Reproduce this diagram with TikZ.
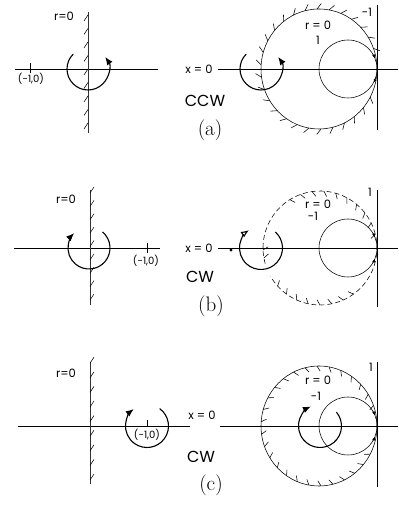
\documentclass[tikz,border=0pt]{standalone}
\usepackage{fontspec}
\setsansfont{Poppins}
\usetikzlibrary{arrows.meta}
\begin{document}
\begin{tikzpicture}[x=1pt,y=1pt,
  thinline/.style={line width=0.55pt},
  axisline/.style={line width=0.65pt},
  wall/.style={line width=0.95pt,black!80},
  hatch/.style={line width=0.55pt},
  turn/.style={line width=1.1pt,-{Latex[length=8pt,width=6.5pt]}},
  turnopen/.style={line width=1.1pt,-{Latex[open,length=8pt,width=6.5pt]}},
  tip/.style={line width=0.55pt,-{Latex[length=3.5pt,width=3pt]}},
  lab/.style={font=\sffamily\fontsize{11.5}{13}\selectfont, inner sep=0pt},
  small/.style={font=\sffamily\fontsize{10}{12}\selectfont, inner sep=0pt},
  big/.style={font=\sffamily\fontsize{16}{19}\selectfont, inner sep=0pt},
  capt/.style={font=\rmfamily\fontsize{21}{24}\selectfont, inner sep=0pt}]
\useasboundingbox (0,0) rectangle (398,518);

% ================= (a) =================
% left
\draw[axisline] (15,449) -- (158,449);
\draw[thinline] (30,445) -- (30,455);
\node[small] (am1) at (31,439) {(-1,0)};
\draw[wall] (88,506) -- (88,385);
\foreach \y in {395,408.5,...,504} \draw[hatch] (88,\y) -- ++(-4,-6);
\node[lab] (ar0) at (64,502) {r=0};
\draw[turn] ([shift={(135:21)}]88,449) arc[start angle=135,end angle=395,radius=21];
% right
\node[lab] (ax0) at (199,449) {x = 0};
\draw[axisline] (218,449) -- (398,449);
\draw[thinline] (377,513) -- (377,388);
\draw[thinline] (319,449) circle[x radius=58,y radius=60];
\foreach \a in {20,32,...,340} \draw[hatch] ([shift={(\a:58 and 60)}]319,449) -- ++(\a-40:7);
\draw[thinline] (348,449) circle[radius=29];
\draw[tip] ([shift={(32:29)}]348,449) arc[start angle=32,end angle=22,radius=29];
\draw[tip] ([shift={(-18:29)}]348,449) arc[start angle=-18,end angle=-28,radius=29];
\draw[turn] ([shift={(135:21)}]261,449) arc[start angle=135,end angle=395,radius=21];
\node[lab] (arr) at (318,493) {r = 0};
\node[lab] (a1) at (318,478) {1};
\node[lab] (am) at (367,506) {-1};
\node[big] (accw) at (205,417) {CCW};
\node[capt] (acap) at (210,388) {(a)};

% ================= (b) =================
% left
\draw[axisline] (14,270) -- (160,270);
\draw[thinline] (147,265) -- (147,275);
\node[small] (bm1) at (146,257) {(-1,0)};
\draw[wall] (90,328) -- (90,213);
\foreach \y in {218,231.375,...,326} \draw[hatch] (90,\y) -- ++(4,6);
\node[lab] (br0) at (66,319) {r=0};
\draw[turn] ([shift={(50:21)}]89,270) arc[start angle=50,end angle=-225,radius=21];
% right
\node[lab] (bx0) at (199,270) {x = 0};
\fill (231,268) circle[radius=1.6];
\draw[axisline] (218,270) -- (398,270);
\draw[thinline] (377,328) -- (377,211);
\draw[thinline,dash pattern=on 5pt off 3pt] ([shift={(196:57)}]320,270) arc[start angle=196,end angle=-150,radius=57];
\foreach \a in {14,26,...,124} \draw[hatch] ([shift={(\a:57)}]320,270) -- ++(\a+210:6);
\foreach \a in {222,234,...,306} \draw[hatch] ([shift={(\a:57)}]320,270) -- ++(\a+210:6);
\foreach \a in {182,190} \draw[hatch] ([shift={(\a:57)}]320,270) -- ++(\a+210:6);
\draw[thinline] (348,270) circle[radius=29];
\draw[tip] ([shift={(32:29)}]348,270) arc[start angle=32,end angle=22,radius=29];
\draw[tip] ([shift={(-32:29)}]348,270) arc[start angle=-32,end angle=-22,radius=29];
\draw[turnopen] ([shift={(48:21.5)}]261,270) arc[start angle=48,end angle=-236,radius=21.5];
\node[lab] (brr) at (318,314) {r = 0};
\node[lab] (bm) at (313,302) {-1};
\node[lab] (b1) at (370,326) {1};
\node[big] (bcw) at (200,241) {CW};
\node[capt] (bcap) at (211,212) {(b)};

% ================= (c) =================
% left
\draw[axisline] (18,92) -- (190,92);
\draw[thinline] (147,92) -- (147,98);
\node[small] (cm1) at (147,83) {(-1,0)};
\draw[wall] (90,156) -- (90,34);
\foreach \y in {38,52.6,...,156} \draw[hatch] (90,\y) -- ++(4,6);
\node[lab] (cr0) at (66,145) {r=0};
\draw[turn] ([shift={(54:21.5)}]147,92) arc[start angle=54,end angle=-232,radius=21.5];
% right
\node[lab] (cx0) at (202,103) {x = 0};
\draw[axisline] (220,92) -- (398,92);
\draw[thinline] (377,156) -- (377,31);
\draw[thinline] (319,92) circle[x radius=58,y radius=60];
\foreach \a in {20,32,...,340} \draw[hatch] ([shift={(\a:58 and 60)}]319,92) -- ++(\a+210:6);
\draw[thinline] (348,92) circle[radius=29];
\draw[tip] ([shift={(32:29)}]348,92) arc[start angle=32,end angle=22,radius=29];
\draw[tip] ([shift={(-32:29)}]348,92) arc[start angle=-32,end angle=-22,radius=29];
\draw[turn] ([shift={(40:21.5)}]320,92) arc[start angle=40,end angle=-245,radius=21.5];
\node[lab] (crr) at (318,138) {r = 0};
\node[lab] (cm) at (316,122) {-1};
\node[lab] (c1) at (371,151) {1};
\node[big] (ccw) at (201,61) {CW};
\node[capt] (ccap) at (211,33) {(c)};
\end{tikzpicture}
\end{document}
